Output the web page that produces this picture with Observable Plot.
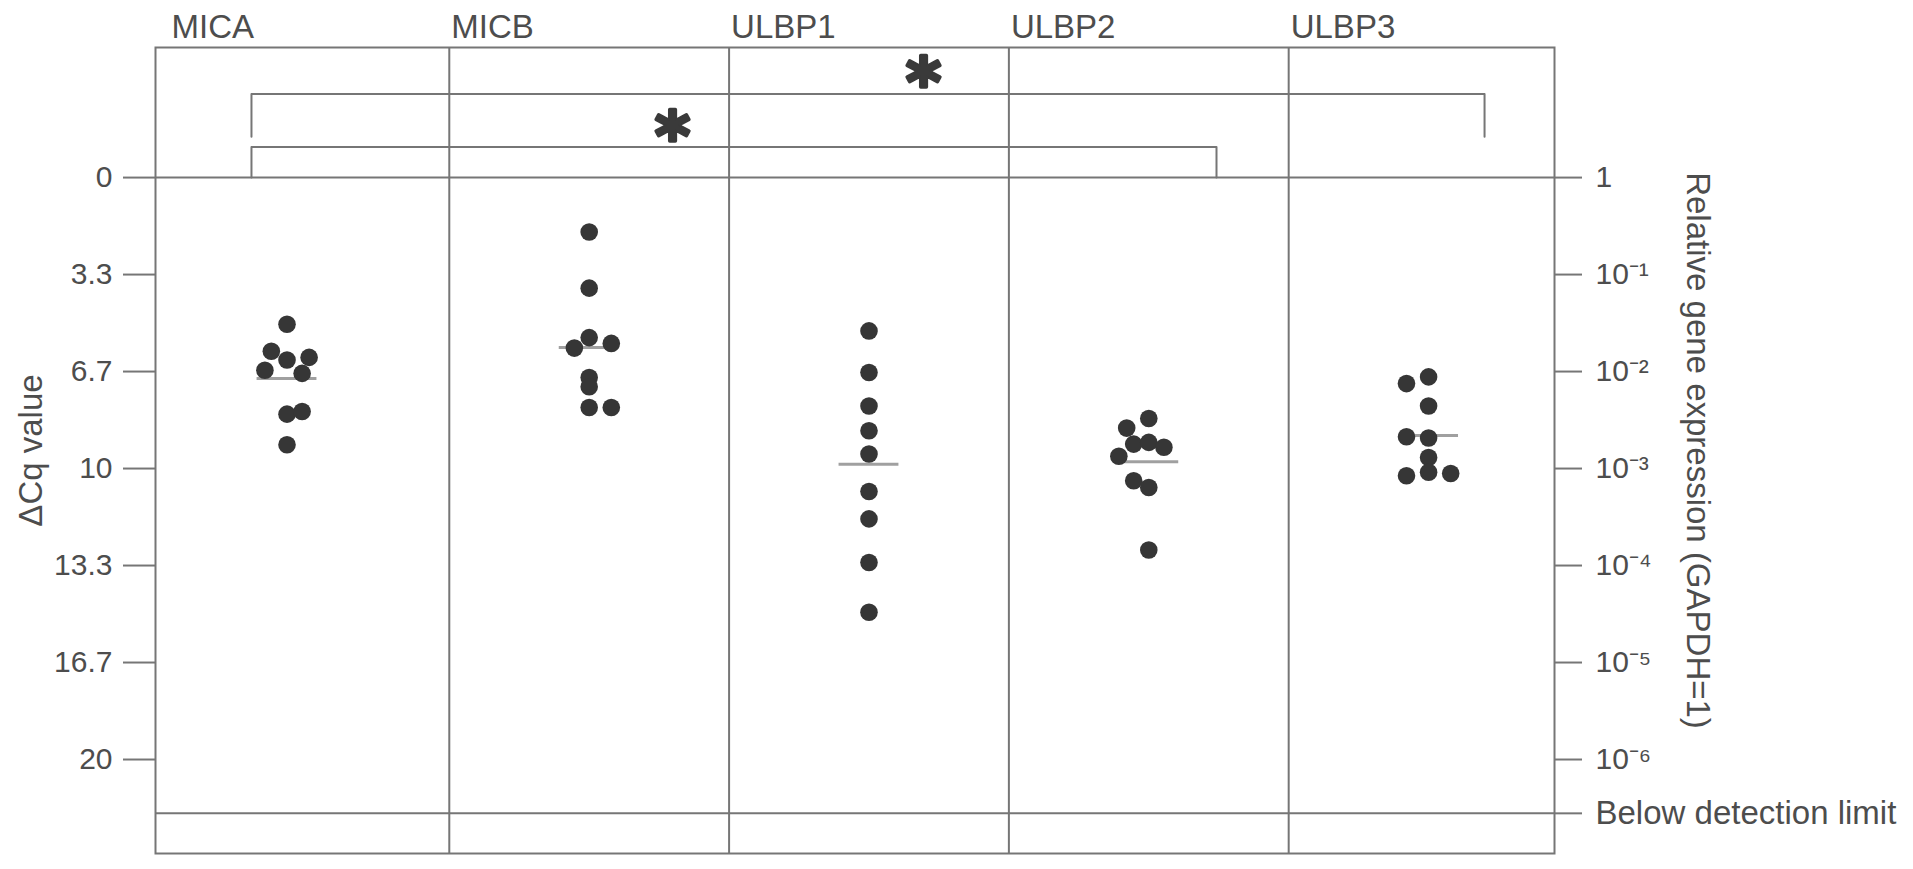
<!DOCTYPE html>
<html><head><meta charset="utf-8">
<script src="https://cdn.jsdelivr.net/npm/d3@7"></script>
<script src="https://cdn.jsdelivr.net/npm/@observablehq/plot@0.6"></script>
<style>body{margin:0;background:#fff;} #chart svg{display:block;}</style>
</head><body><div id="chart"></div>
<script>
// ---- data ----
const genes = ["MICA", "MICB", "ULBP1", "ULBP2", "ULBP3"];
const groupPosition = [0.42, 1.5, 2.5, 3.5, 4.5];

const dcqMICA  = [5.04, 5.97, 6.27, 6.18, 6.62, 6.73, 8.13, 8.04, 9.18];
const dcqMICB  = [1.87, 3.80, 5.50, 5.86, 5.70, 6.87, 7.19, 7.90, 7.90];
const dcqULBP1 = [5.27, 6.70, 7.85, 8.70, 9.50, 10.79, 11.73, 13.23, 14.94];
const dcqULBP2 = [8.28, 8.61, 9.16, 9.10, 9.27, 9.58, 10.42, 10.65, 12.80];
const dcqULBP3 = [7.08, 6.85, 7.85, 8.91, 8.95, 9.62, 10.25, 10.13, 10.17];

// horizontal scatter of overlapping dots (category units)
const spreadMICA  = [0, -0.056, 0, 0.079, -0.079, 0.054, 0, 0.054, 0];
const spreadMICB  = [0, 0, 0, -0.053, 0.079, 0, 0, 0, 0.079];
const spreadULBP1 = [0, 0, 0, 0, 0, 0, 0, 0, 0];
const spreadULBP2 = [0, -0.079, -0.054, 0, 0.054, -0.107, -0.054, 0, 0];
const spreadULBP3 = [-0.079, 0, 0, -0.079, 0, 0, -0.079, 0, 0.079];

const leftTickValues = [0, 10/3, 20/3, 10, 40/3, 50/3, 20];
const leftTickLabels = ["0", "3.3", "6.7", "10", "13.3", "16.7", "20"];
const rightTickLabels = ["1", "10⁻¹", "10⁻²", "10⁻³", "10⁻⁴", "10⁻⁵", "10⁻⁶"];
const detectionLimit = 21.85;
const detectionLabel = "Below detection limit";

const bracketFrom = [0.293, 0.293];
const bracketTo   = [4.70, 3.742];
const bracketTop  = [-2.87, -1.05];
const bracketFoot = [-1.40, 0];
const starX = [2.695, 1.798];
const starY = [-3.60, -1.72];
const starText = ["*", "*"];

const yLabelLeft = "ΔCq value";
const yLabelRight = "Relative gene expression (GAPDH=1)";

// ---- build tables ----
const values = [dcqMICA, dcqMICB, dcqULBP1, dcqULBP2, dcqULBP3];
const spreads = [spreadMICA, spreadMICB, spreadULBP1, spreadULBP2, spreadULBP3];
const points = genes.flatMap((g, i) => values[i].map((v, j) => ({gene: g, dcq: v, x: groupPosition[i] + spreads[i][j]})));
const means = genes.map((g, i) => ({gene: g, mean: d3.mean(values[i]), x1: groupPosition[i] - 0.107, x2: groupPosition[i] + 0.107}));
const bracketPath = bracketFrom.flatMap((f, k) => [
  {k, x: f, y: bracketFoot[k]}, {k, x: f, y: bracketTop[k]},
  {k, x: bracketTo[k], y: bracketTop[k]}, {k, x: bracketTo[k], y: bracketFoot[k]}
]);
const stars = starX.map((x, k) => ({x, y: starY[k], t: starText[k]}));
const leftMap = new Map(leftTickValues.map((v, i) => [v, leftTickLabels[i]]));
const rightMap = new Map(leftTickValues.map((v, i) => [v, rightTickLabels[i]]));

const lineColor = "#767676";
const textColor = "#4d4d4d";

const chart = Plot.plot({
  width: 1913,
  height: 869,
  marginTop: 47,
  marginBottom: 16,
  marginLeft: 155,
  marginRight: 359,
  style: {fontFamily: "'Liberation Sans', Arial, sans-serif", background: "#fff"},
  x: {type: "linear", domain: [-0.05, 4.95]},
  y: {domain: [-4.47, 23.23], reverse: true},
  marks: [
    Plot.ruleX([1, 2, 3, 4], {stroke: lineColor, strokeWidth: 2}),
    Plot.ruleY([0, detectionLimit], {stroke: lineColor, strokeWidth: 2}),
    Plot.frame({stroke: lineColor, strokeWidth: 2}),
    Plot.line(bracketPath, {x: "x", y: "y", z: "k", stroke: lineColor, strokeWidth: 2}),
    Plot.ruleY(means, {y: "mean", x1: "x1", x2: "x2", stroke: "#a0a0a0", strokeWidth: 3}),
    Plot.dot(points, {x: "x", y: "dcq", r: 8.8, fill: "#363636", stroke: "none"}),
    Plot.text(stars, {x: "x", y: "y", text: "t", fontSize: 68, fontWeight: "bold", fill: "#3a3a3a",
      stroke: "#3a3a3a", strokeWidth: 3.5, dy: 11, fontFamily: "'DejaVu Sans', sans-serif"}),
    Plot.axisY({anchor: "left", ticks: leftTickValues, tickFormat: d => leftMap.get(d), tickSize: 32, tickPadding: 11,
      fontSize: 30, stroke: lineColor, fill: textColor, strokeWidth: 2, label: null}),
    Plot.axisY({anchor: "right", ticks: leftTickValues, tickFormat: d => rightMap.get(d), tickSize: 27, tickPadding: 14,
      fontSize: 30, stroke: lineColor, fill: textColor, strokeWidth: 2, label: null}),
    Plot.axisY({anchor: "right", ticks: [detectionLimit], tickFormat: () => detectionLabel, tickSize: 27, tickPadding: 14,
      fontSize: 33, stroke: lineColor, fill: textColor, strokeWidth: 2, label: null}),
    Plot.axisX({anchor: "top", ticks: [0, 1, 2, 3, 4], tickFormat: i => genes[i], tickSize: 0, tickPadding: 10,
      textAnchor: "start", dx: 2, fontSize: 33, fill: textColor, label: null}),
    Plot.text([yLabelLeft], {text: d => d, frameAnchor: "left", textAnchor: "middle", rotate: -90, dx: -124, fontSize: 33, fill: textColor}),
    Plot.text([yLabelRight], {text: d => d, frameAnchor: "right", textAnchor: "middle", rotate: 90, dx: 143, fontSize: 33, fill: textColor})
  ]
});
document.getElementById("chart").appendChild(chart);
</script>
</body></html>
